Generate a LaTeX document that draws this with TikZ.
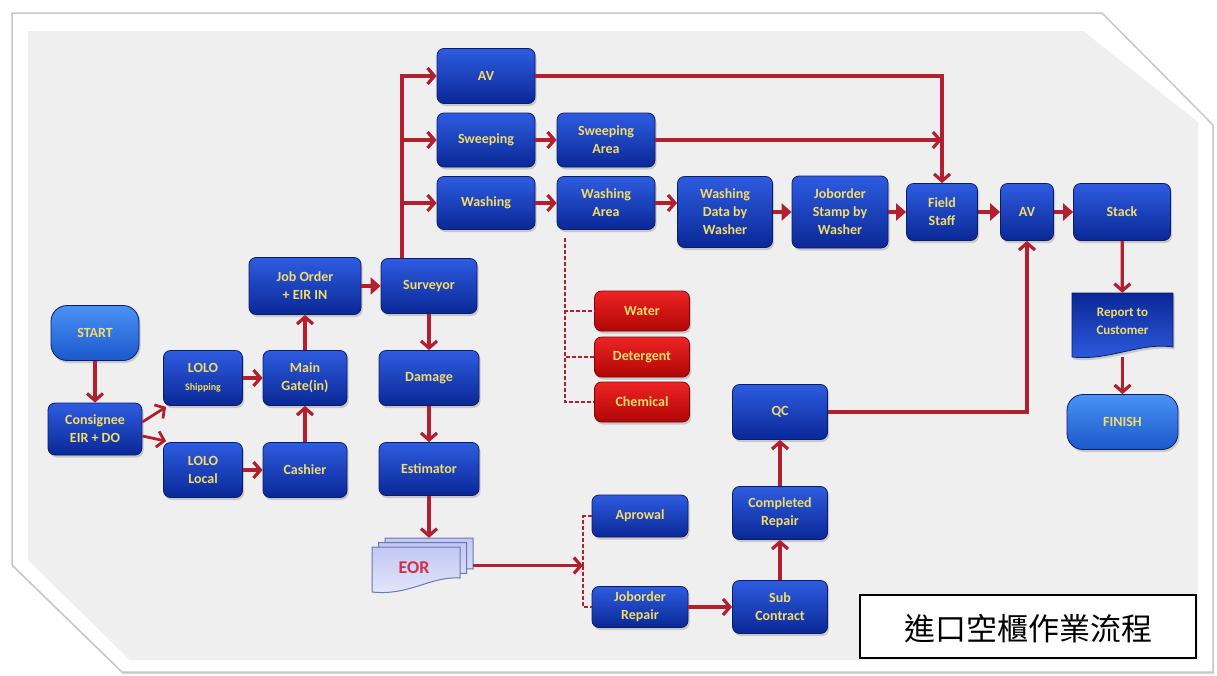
\documentclass[tikz,border=0pt]{standalone}
\usepackage{fontspec}
\setmainfont{Carlito}
\newfontfamily\cjkfont{Noto Sans CJK TC}
\usetikzlibrary{arrows.meta,shadows,calc}
\definecolor{boxtop}{HTML}{2E5CE0}
\definecolor{boxbot}{HTML}{0A2896}
\definecolor{boxdraw}{HTML}{0A1C66}
\definecolor{redtop}{HTML}{EE2424}
\definecolor{redbot}{HTML}{B00606}
\definecolor{reddraw}{HTML}{7A0808}
\definecolor{sttop}{HTML}{4A92F4}
\definecolor{stbot}{HTML}{1C58CC}
\definecolor{lin}{HTML}{B22030}
\definecolor{txt}{HTML}{F2DC6A}
\definecolor{bg}{HTML}{EFEFEF}
\definecolor{eortop}{HTML}{E4E7FC}
\definecolor{eorbot}{HTML}{C2C8F2}
\definecolor{eordraw}{HTML}{6A78B0}
\definecolor{eortext}{HTML}{D03048}
\begin{document}
\begin{tikzpicture}[x=1pt,y=-1pt,
  box/.style={rounded corners=7pt, draw=boxdraw, line width=0.8pt, top color=boxtop, bottom color=boxbot,
    text=txt, font=\bfseries\fontsize{14}{18}\selectfont, align=center, inner sep=2pt,
    drop shadow={shadow xshift=1.5pt, shadow yshift=-2.5pt, opacity=0.35}},
  rbox/.style={box, top color=redtop, bottom color=redbot, draw=reddraw},
  term/.style={box, rounded corners=16pt, top color=sttop, bottom color=stbot},
  arr/.style={draw=lin, line width=3.2pt, -{Straight Barb[length=7pt,width=16pt]}},
  tarr/.style={draw=lin, line width=3.2pt, -{Triangle[length=10pt,width=17pt]}},
  dsh/.style={draw=lin, line width=2.2pt, dash pattern=on 4pt off 2pt},
  eordoc/.style={top color=eorbot, bottom color=eortop, draw=eordraw, line width=1pt}
]
\useasboundingbox (0,0) rectangle (1217,675);
\fill[white] (0,0) rectangle (1217,675);
% frame
\filldraw[fill=white, draw=black!22, line width=1.5pt, drop shadow={shadow xshift=1pt, shadow yshift=-2pt, opacity=0.3}]
  (12,13) -- (1102,13) -- (1213,125) -- (1213,672) -- (122,672) -- (12,565) -- cycle;
\fill[bg] (28,31) -- (1083,31) -- (1198,122) -- (1198,660) -- (130,660) -- (28,560) -- cycle;

% left part
\node[term, minimum width=88pt, minimum height=55pt] (start) at (95,333) {START};
\node[box, minimum width=94pt, minimum height=52pt] (cons) at (95,429) {Consignee\\EIR + DO};
\node[box, minimum width=79pt, minimum height=55pt] (lolo1) at (203,378) {LOLO\\{\fontsize{10}{12}\selectfont Shipping}};
\node[box, minimum width=79pt, minimum height=55pt] (lolo2) at (203,470) {LOLO\\Local};
\node[box, minimum width=84pt, minimum height=55pt] (gate) at (305,378) {Main\\Gate(in)};
\node[box, minimum width=84pt, minimum height=55pt] (cash) at (305,470) {Cashier};
\node[box, minimum width=112pt, minimum height=57pt] (job) at (305,286) {Job Order\\+ EIR IN};
\node[box, minimum width=96pt, minimum height=55pt] (surv) at (429,286) {Surveyor};
\node[box, minimum width=100pt, minimum height=55pt] (dmg) at (429,378) {Damage};
\node[box, minimum width=100pt, minimum height=53pt] (est) at (429,469) {Estimator};

% EOR stack
\path[eordoc] (385,538) -- (473,538) -- (473,569) .. controls (443,567) and (423,587) .. (385,583) -- cycle;
\path[eordoc] (378.5,542.5) -- (466.5,542.5) -- (466.5,573.5) .. controls (436.5,571.5) and (416.5,591.5) .. (378.5,587.5) -- cycle;
\path[eordoc] (372,547) -- (460,547) -- (460,578) .. controls (430,576) and (410,596) .. (372,592) -- cycle;
\node[minimum width=101pt, minimum height=55pt, inner sep=0pt] (eor) at (422.5,565.5) {};
\node[font=\bfseries\fontsize{18}{20}\selectfont, text=eortext] (eortxt) at (414,568) {EOR};

% top branch
\node[box, minimum width=98pt, minimum height=55pt] (av1) at (486,76) {AV};
\node[box, minimum width=98pt, minimum height=54pt] (sweep) at (486,140) {Sweeping};
\node[box, minimum width=98pt, minimum height=53pt] (wash) at (486,203) {Washing};
\node[box, minimum width=98pt, minimum height=54pt] (swa) at (606,140) {Sweeping\\Area};
\node[box, minimum width=98pt, minimum height=53pt] (wsa) at (606,203) {Washing\\Area};
\node[box, minimum width=95pt, minimum height=71pt] (wdat) at (725,212) {Washing\\Data by\\Washer};
\node[box, minimum width=96pt, minimum height=72pt] (jst) at (840,212) {Joborder\\Stamp by\\Washer};
\node[box, minimum width=71pt, minimum height=57pt] (field) at (942,212) {Field\\Staff};
\node[box, minimum width=53pt, minimum height=57pt] (av2) at (1027,212) {AV};
\node[box, minimum width=97pt, minimum height=57pt] (stack) at (1122,212) {Stack};

% report
\path[top color=boxbot, bottom color=boxtop, draw=boxdraw, line width=0.8pt,
  drop shadow={shadow xshift=1.5pt, shadow yshift=-2.5pt, opacity=0.35}]
  (1072,293) -- (1173,293) -- (1173,347) .. controls (1140,342) and (1110,361) .. (1072,357) -- cycle;
\node[minimum width=101pt, minimum height=64pt, inner sep=0pt] (rep) at (1122.5,325) {};
\node[text=txt, font=\bfseries\fontsize{13}{18}\selectfont, align=center] (reptxt) at (1122.5,321) {Report to\\Customer};
\node[term, minimum width=111pt, minimum height=55pt] (finish) at (1122.5,422) {FINISH};

% chemicals
\node[rbox, minimum width=95pt, minimum height=40pt] (water) at (642,311) {Water};
\node[rbox, minimum width=95pt, minimum height=40pt] (deter) at (642,357) {Detergent};
\node[rbox, minimum width=95pt, minimum height=40pt] (chem) at (642,402) {Chemical};

% repair
\node[box, minimum width=95pt, minimum height=55pt] (qc) at (780,412) {QC};
\node[box, minimum width=95pt, minimum height=53pt] (comp) at (780,513) {Completed\\Repair};
\node[box, minimum width=95pt, minimum height=53pt] (sub) at (780,607) {Sub\\Contract};
\node[box, minimum width=96pt, minimum height=42pt] (apr) at (640,516) {Aprowal};
\node[box, minimum width=96pt, minimum height=41pt] (jrep) at (640,607) {Joborder\\Repair};

% title
\node[draw=black, line width=1.3pt, fill=white, minimum width=336pt, minimum height=63pt, inner sep=0pt] (title) at (1028,626.5) {};
\node[font=\cjkfont\fontsize{31}{36}\selectfont] (titletxt) at (1028,629) {進口空櫃作業流程};

% coordinates
\coordinate (s1) at (402,258);
\coordinate (d0) at (565,238);
\coordinate (e1) at (583,565.5);

% connectors
\draw[arr] (start) -- (cons);
\draw[arr, line width=2.8pt] ([yshift=7pt]cons.east) -- ([xshift=3pt,yshift=-1pt]lolo1.south west);
\draw[arr, line width=2.8pt] ([yshift=-7pt]cons.east) -- ([xshift=3pt,yshift=1pt]lolo2.north west);
\draw[arr] (lolo1) -- (gate);
\draw[arr] (lolo2) -- (cash);
\draw[arr] (cash) -- (gate);
\draw[arr] (gate) -- (job);
\draw[tarr] (job) -- (surv);
\draw[arr] (surv) -- (dmg);
\draw[arr] (dmg) -- (est);
\draw[arr] (est) -- (est |- eor.north);
\draw[arr] (s1) |- (av1);
\draw[arr] (s1) |- (sweep);
\draw[arr] (s1) |- (wash);
\draw[arr] (sweep) -- (swa);
\draw[arr] (wash) -- (wsa);
\draw[arr] (wsa) -- (wsa -| wdat.west);
\draw[tarr] (wdat) -- (jst);
\draw[tarr] (jst) -- (field);
\draw[tarr] (field) -- (av2);
\draw[tarr] (av2) -- (stack);
\draw[arr] (av1) -| (field);
\draw[arr] (swa) -- (swa -| field);
\draw[arr] (stack) -- (rep);
\draw[arr] (rep) -- (finish);
\draw[arr] (qc) -| (av2);
\draw[dsh] (d0) |- (water);
\draw[dsh] (d0) |- (deter);
\draw[dsh] (d0) |- (chem);
\draw[arr] (eor) -- (e1);
\draw[dsh] (e1) |- (apr);
\draw[dsh] (e1) |- (jrep);
\draw[arr] (jrep) -- (sub);
\draw[arr] (sub) -- (comp);
\draw[arr] (comp) -- (qc);
\end{tikzpicture}
\end{document}
